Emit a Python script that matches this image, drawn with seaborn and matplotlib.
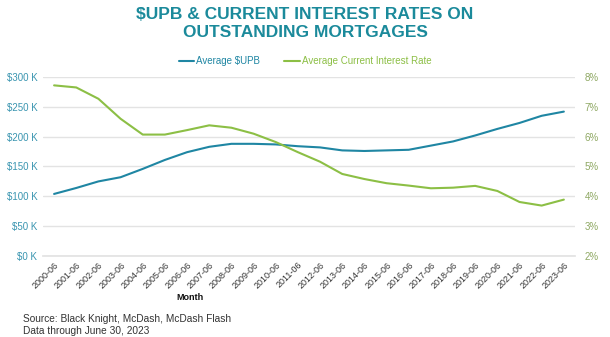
import matplotlib
matplotlib.use("Agg")
import matplotlib.pyplot as plt
import seaborn as sns
import pandas as pd
from matplotlib.ticker import FuncFormatter

months = [f"{y}-06" for y in range(2000, 2024)]
avg_upb = [104, 114, 125, 132, 146, 161, 174, 183, 188, 188, 187, 184,
           182, 177, 176, 177, 178, 185, 192, 202, 213, 223, 235, 242]  # $K
avg_rate = [7.72, 7.65, 7.27, 6.60, 6.07, 6.07, 6.22, 6.38, 6.30, 6.10, 5.82, 5.48,
            5.16, 4.75, 4.58, 4.44, 4.36, 4.27, 4.29, 4.35, 4.18, 3.81, 3.69, 3.89]  # %

df = pd.DataFrame({"Month": months, "idx": range(len(months)),
                   "upb": [v * 1000 for v in avg_upb], "rate": avg_rate})

BLUE = "#1f86a3"
GREEN = "#8cbf45"
TITLE = "#1b8a9b"
LTICK = "#3a95b0"
RTICK = "#8fa863"

sns.set_theme(style="white")
plt.rcParams["font.family"] = ["Liberation Sans", "DejaVu Sans"]

fig = plt.figure(figsize=(6.10, 3.37), dpi=100)
ax = fig.add_axes([0.0705, 0.2404, 0.872, 0.5311])
ax2 = ax.twinx()

sns.lineplot(data=df, x="idx", y="upb", ax=ax, color=BLUE, lw=1.5, label="Average $UPB", legend=False)
sns.lineplot(data=df, x="idx", y="rate", ax=ax2, color=GREEN, lw=1.5,
             label="Average Current Interest Rate", legend=False)

ax.set_xlim(-0.5, len(months) - 0.5)
ax.set_ylim(0, 300000)
ax.set_yticks(range(0, 300001, 50000))
ax.yaxis.set_major_formatter(FuncFormatter(lambda v, p: f"${int(v/1000)} K"))
ax2.set_ylim(2, 8)
ax2.set_yticks(range(2, 9))
ax2.yaxis.set_major_formatter(FuncFormatter(lambda v, p: f"{int(v)}%"))

ax.grid(axis="y", color="#e3e3e3", lw=1)
ax.set_axisbelow(True)
for a in (ax, ax2):
    for s in a.spines.values():
        s.set_visible(False)
ax.spines["bottom"].set_visible(True)
ax.spines["bottom"].set_color("#e3e3e3")

ax.set_xticks(df["idx"])
ax.set_xticklabels(months, rotation=45, ha="right", rotation_mode="anchor", fontsize=6.5, color="#333333")
ax.tick_params(axis="x", length=0, pad=3)
ax.tick_params(axis="y", length=0, labelsize=7, labelcolor=LTICK, pad=4)
ax2.tick_params(axis="y", length=0, labelsize=7, labelcolor=RTICK, pad=7)
ax.set_ylabel("")
ax2.set_ylabel("")
ax.set_xlabel("Month", fontsize=6.5, fontweight="bold", color="#111111", labelpad=2)
ax.xaxis.set_label_coords(0.277, -0.205)

fig.text(0.5, 0.98, "$UPB & CURRENT INTEREST RATES ON\nOUTSTANDING MORTGAGES",
         ha="center", va="top", fontsize=12.5, fontweight="bold", color=TITLE, linespacing=1.3)

h1, l1 = ax.get_legend_handles_labels()
h2, l2 = ax2.get_legend_handles_labels()
fig.legend(h1 + h2, l1 + l2, loc="center", bbox_to_anchor=(0.5, 0.819), ncol=2, frameon=False,
           fontsize=7, labelcolor="linecolor", handlelength=1.6, handletextpad=0.2, columnspacing=2.5)

fig.text(0.038, 0.068, "Source: Black Knight, McDash, McDash Flash\nData through June 30, 2023",
         ha="left", va="top", fontsize=7.3, color="#333333", linespacing=1.3)

fig.savefig("out.png", dpi=100)
